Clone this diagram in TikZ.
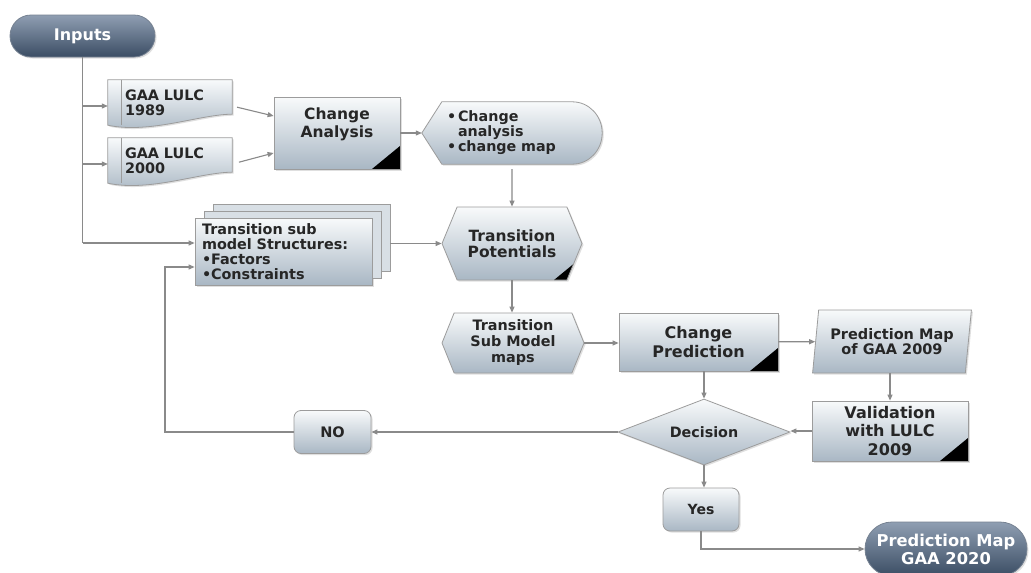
\documentclass[tikz,border=0pt]{standalone}
\usepackage{fontspec}
\setmainfont{DejaVu Sans}
\usetikzlibrary{arrows.meta,calc,positioning,shapes.geometric,shapes.symbols,shapes.misc,shadows}
\pgfdeclarelayer{bg}
\pgfsetlayers{bg,main}
\definecolor{edgegrey}{HTML}{9C9C9C}
\definecolor{wiregrey}{HTML}{8A8A8A}
\definecolor{paletop}{HTML}{F8FAFB}
\definecolor{palebot}{HTML}{A9B7C4}
\definecolor{slatetop}{HTML}{8F9EB2}
\definecolor{slatebot}{HTML}{3B4D64}
\definecolor{ink}{HTML}{262626}
\newcommand\fsz[2]{\fontsize{#1}{#2}\selectfont}
\newcommand\bul{\makebox[11pt][l]{\textbullet}}
\tikzset{>={Triangle[length=6pt,width=5pt]},
  pale/.style={draw=edgegrey, line width=.8pt, top color=paletop, bottom color=palebot,
    drop shadow={shadow xshift=1.5pt, shadow yshift=-1.5pt, opacity=.25}},
  slate/.style={draw=slatebot!70, line width=.8pt, top color=slatetop, bottom color=slatebot,
    text=white, drop shadow={shadow xshift=1.5pt, shadow yshift=-1.5pt, opacity=.25}},
  corner/.style={path picture={\fill[black] (path picture bounding box.south east)
    -- ++(-28pt,0pt) -- ++(28pt,23pt) -- cycle;}},
  lbl/.style={text=ink, align=center, inner sep=0pt},
  wire/.style={draw=wiregrey, line width=1.1pt},
  holder/.style={lbl, align=left, minimum width=124pt, minimum height=46pt, text width=90pt,
    font=\bfseries\fsz{14.4}{14.5}}
}

\begin{document}
\begin{tikzpicture}[x=1pt,y=-1pt]
\begin{pgfonlayer}{bg}
\fill[white] (0,0) rectangle (1031,573);
\end{pgfonlayer}
\useasboundingbox (0,0) rectangle (1031,573);

\node[slate, rounded rectangle, minimum width=145pt, minimum height=42pt, inner sep=0pt,
  font=\bfseries\fsz{16}{19}] (inputs) at (82.5,36) {Inputs};
\node[holder] (lulc89) at (170,103) {GAA LULC\\1989};
\node[holder] (lulc00) at (170,161) {GAA LULC\\2000};
\node[pale, corner, lbl, minimum width=126pt, minimum height=72pt] (chan) at (337,133) {};
\node[lbl, font=\bfseries\fsz{15.5}{18}] (chantxt) at ($(chan)+(0,-9)$) {Change\\Analysis};
\node[lbl, align=left, minimum width=180pt, minimum height=62pt, text width=130pt,
  font=\bfseries\fsz{14.3}{15}] (outA) at (512,133)
  {\bul Change\\\hspace*{11pt}analysis\\\bul change map};
\node[pale, lbl, align=left, minimum width=177pt, minimum height=67pt, text width=163pt,
  double copy shadow={shadow xshift=9pt, shadow yshift=7pt, draw=edgegrey, fill=paletop!60!palebot},
  font=\bfseries\fsz{14.4}{15}] (tsm) at (283.5,251.5)
  {Transition sub\\model Structures:\\\makebox[9pt][l]{\textbullet}Factors\\\makebox[9pt][l]{\textbullet}Constraints};
\node[pale, corner, lbl, signal, signal to=west and east, signal pointer angle=135,
  minimum width=140pt, minimum height=73pt, font=\bfseries\fsz{15.5}{16}] (tpot) at (512,243.5)
  {Transition\\Potentials};
\node[pale, lbl, signal, signal to=west and east, signal pointer angle=136,
  minimum width=142pt, minimum height=60pt, font=\bfseries\fsz{14.4}{16}] (smm) at (513,343)
  {Transition\\Sub Model\\maps};
\node[pale, corner, lbl, minimum width=159pt, minimum height=58pt,
  font=\bfseries\fsz{16}{19}] (cpred) at (698.5,342) {Change\\Prediction};
\node[pale, lbl, trapezium, trapezium left angle=79, trapezium right angle=101,
  trapezium stretches=true, minimum width=159pt, minimum height=63pt,
  font=\bfseries\fsz{14.5}{15}] (pmap) at (892,341.5) {Prediction Map\\of GAA 2009};
\node[pale, corner, lbl, minimum width=156pt, minimum height=60pt,
  font=\bfseries\fsz{16}{18.5}] (valid) at (890,431) {Validation\\with LULC\\2009};
\node[pale, lbl, diamond, aspect=2.6, minimum width=172pt, minimum height=66pt,
  font=\bfseries\fsz{14.3}{16}] (decis) at (704,432) {Decision};
\node[pale, lbl, rounded corners=7pt, minimum width=77pt, minimum height=43pt,
  font=\bfseries\fsz{14.5}{16}] (no) at (332.5,432) {NO};
\node[pale, lbl, rounded corners=7pt, minimum width=76pt, minimum height=43pt,
  font=\bfseries\fsz{14}{16}] (yes) at (701,509.5) {Yes};
\node[slate, rounded rectangle, minimum width=162pt, minimum height=54pt, inner sep=0pt,
  align=center, font=\bfseries\fsz{16.3}{18}] (pred20) at (946,549) {Prediction Map\\GAA 2020};

\begin{pgfonlayer}{bg}
\foreach \d in {lulc89,lulc00} {
  \path[pale] (\d.north west) -- (\d.north east) -- ([yshift=12pt]\d.south east)
    .. controls ([xshift=-32pt,yshift=12pt]\d.south east) and ([xshift=42pt,yshift=-8pt]\d.south west)
    .. ([yshift=1pt]\d.south west) -- cycle;
  \draw[edgegrey, line width=.8pt] ([xshift=14pt]\d.north west) -- ([xshift=14pt,yshift=1pt]\d.south west);
}
\path[pale] (outA.west) -- ([xshift=20pt]outA.north west) -- ([xshift=-30pt]outA.north east)
  .. controls ([xshift=-13pt]outA.north east) and ([yshift=17pt]outA.east) .. (outA.east)
  .. controls ([yshift=-17pt]outA.east) and ([xshift=-13pt]outA.south east)
  .. ([xshift=-30pt]outA.south east) -- ([xshift=20pt]outA.south west) -- cycle;
\end{pgfonlayer}

\coordinate (trunk) at (82.5,243);
\coordinate (loop) at (165,267);
\draw[wire] (inputs) -- (trunk);
\draw[wire,->] (trunk) -- (trunk -| tsm.west);
\foreach \d in {lulc89,lulc00}
  \draw[wire,->] ([yshift=-3pt]\d.west -| inputs) -- ([yshift=-3pt]\d.west);
\draw[wire,->,shorten <=5pt] ([yshift=-3pt]lulc89.east) -- ([yshift=17pt]chan.west);
\draw[wire,->,shorten <=7pt] ([yshift=-3pt]lulc00.east) -- ([yshift=-20pt]chan.west);
\draw[wire,->] (chan) -- (outA);
\draw[wire,->,shorten <=5pt] (outA) -- (tpot);
\draw[wire,->] ([xshift=18pt]tsm.east |- tpot.west) -- (tpot.west);
\draw[wire,->] (tpot.south) -- (tpot.south |- smm.north);
\draw[wire,->] (smm.east) -- (smm.east -| cpred.west);
\draw[wire,->] (cpred) -- (pmap);
\draw[wire,->] (pmap.south -| valid.north) -- (valid.north);
\draw[wire,->] (valid.west) -- (valid.west -| decis.east);
\draw[wire,->] (cpred.south -| decis.north) -- (decis.north);
\draw[wire,->] (decis) -- (no);
\draw[wire,->] (decis.south) -- (decis.south |- yes.north);
\draw[wire,->] (no.west) -| (loop) -- (loop -| tsm.west);
\draw[wire,->] (yes.south) |- (pred20.west);
\end{tikzpicture}
\end{document}
